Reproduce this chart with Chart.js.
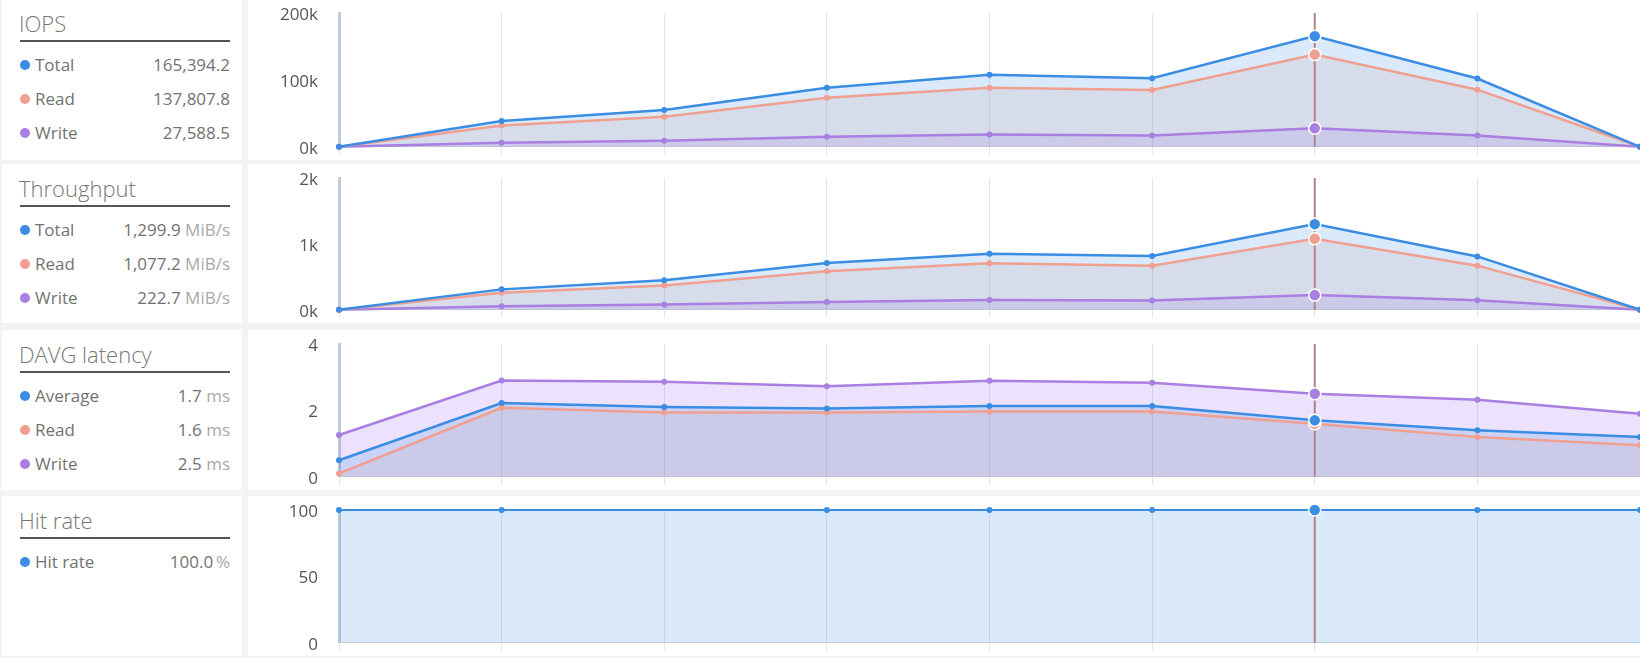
<!DOCTYPE html>
<html>
<head>
<meta charset="utf-8">
<script src="https://cdn.jsdelivr.net/npm/chart.js@4/dist/chart.umd.min.js"></script>
<style>
    body { margin: 0; width: 1640px; height: 658px; overflow: hidden; position: relative;
           background: #f3f3f3; font-family: "Open Sans", sans-serif; }
    .side { position: absolute; left: 2px; width: 240px; background: #fff; }
    .plot { position: absolute; left: 248px; width: 1400px; background: #fff; }
    .title { position: absolute; left: 17px; top: 9px; font-size: 22px; font-weight: 300;
             color: #777; line-height: 30px; white-space: nowrap; }
    .rule { position: absolute; left: 18px; top: 41px; width: 210px; height: 2px; background: #555; }
    .row { position: absolute; left: 18px; width: 210px; height: 24px; line-height: 24px;
           font-size: 17px; color: #727272; white-space: nowrap; }
    .dot { position: absolute; left: 0; top: 7px; width: 10px; height: 10px; border-radius: 50%; }
    .name { position: absolute; left: 15px; }
    .val { position: absolute; right: 0; }
    .unit { color: #a8a8a8; }
</style>
</head>
<body>

<script>
// categories (sample points, no labels shown on the axis)
const labels = ['1', '2', '3', '4', '5', '6', '7', '8', '9'];

// IOPS
const iopsTotal = [0, 38400, 55000, 88400, 107600, 102500, 165394.2, 102000, 0];
const iopsRead  = [0, 31800, 45000, 73200, 88400, 84800, 137807.8, 85400, 0];
const iopsWrite = [0, 6200, 9000, 15000, 18500, 17000, 27588.5, 17000, 0];

// Throughput, MiB/s
const tpTotal = [0, 310, 450, 710, 850, 815, 1299.9, 810, 0];
const tpRead  = [0, 260, 370, 585, 705, 670, 1077.2, 670, 0];
const tpWrite = [0, 55, 80, 120, 150, 140, 222.7, 145, 0];

// DAVG latency, ms
const latAvg   = [0.5, 2.22, 2.1, 2.06, 2.13, 2.13, 1.7, 1.4, 1.2];
const latRead  = [0.1, 2.08, 1.94, 1.94, 1.97, 1.97, 1.6, 1.2, 0.95];
const latWrite = [1.26, 2.9, 2.86, 2.73, 2.89, 2.83, 2.5, 2.32, 1.9];

// Hit rate, % (third sample has no reading, the line spans it)
const hitRate = [100, 100, null, 100, 100, 100, 100, 100, 100];

// y axis ticks per panel
const iopsTicks = [0, 100000, 200000];
const tpTicks = [0, 1000, 2000];
const latTicks = [0, 2, 4];
const hitTicks = [0, 50, 100];

// legend texts
const iopsLegend = [['Total', '165,394.2', ''], ['Read', '137,807.8', ''], ['Write', '27,588.5', '']];
const tpLegend = [['Total', '1,299.9', 'MiB/s'], ['Read', '1,077.2', 'MiB/s'], ['Write', '222.7', 'MiB/s']];
const latLegend = [['Average', '1.7', 'ms'], ['Read', '1.6', 'ms'], ['Write', '2.5', 'ms']];
const hitLegend = [['Hit rate', '100.0', '%']];

const HL = 6; // highlighted (hovered) sample

const BLUE = '#3b8de4';
const SALMON = '#f0a090';
const PURPLE = '#a97fe2';
const fills = {
    [BLUE]: 'rgba(59,141,228,0.19)',
    [SALMON]: 'rgba(240,160,144,0.18)',
    [PURPLE]: 'rgba(158,108,245,0.2)'
};
const legendColors = [BLUE, SALMON, PURPLE];

const panels = [
    {top: -1, height: 161, title: 'IOPS', legend: iopsLegend, ticks: iopsTicks, fmt: v => (v / 1000) + 'k',
     series: [iopsTotal, iopsRead, iopsWrite]},
    {top: 164, height: 159, title: 'Throughput', legend: tpLegend, ticks: tpTicks, fmt: v => (v / 1000) + 'k',
     series: [tpTotal, tpRead, tpWrite]},
    {top: 330, height: 160, title: 'DAVG latency', legend: latLegend, ticks: latTicks, fmt: v => v,
     series: [latAvg, latRead, latWrite]},
    {top: 496, height: 160, title: 'Hit rate', legend: hitLegend, ticks: hitTicks, fmt: v => v,
     series: [hitRate]}
];

// vertical marker at the hovered sample
const hoverLine = {
    id: 'hoverLine',
    beforeDatasetsDraw(chart) {
        const x = chart.scales.x.getPixelForValue(HL);
        const a = chart.chartArea;
        const ctx = chart.ctx;
        ctx.save();
        ctx.strokeStyle = '#b3808e';
        ctx.lineWidth = 2;
        ctx.beginPath();
        ctx.moveTo(x, a.top);
        ctx.lineTo(x, a.bottom);
        ctx.stroke();
        ctx.restore();
    }
};

function dataset(label, data, color, single) {
    return {
        label: label,
        data: data,
        borderColor: color,
        backgroundColor: fills[color],
        fill: 'origin',
        borderWidth: single ? 2 : 2.5,
        tension: 0,
        spanGaps: true,
        clip: false,
        pointRadius: c => c.dataIndex === HL ? 6 : 3,
        pointBackgroundColor: color,
        pointBorderColor: c => c.dataIndex === HL ? '#fff' : color,
        pointBorderWidth: c => c.dataIndex === HL ? 1.5 : 0
    };
}

panels.forEach(p => {
    const side = document.createElement('div');
    side.className = 'side';
    side.style.top = p.top + 'px';
    side.style.height = p.height + 'px';
    let html = '<div class="title">' + p.title + '</div><div class="rule"></div>';
    p.legend.forEach((l, j) => {
        const unit = l[2] ? (l[2] === '%' ? '\u2009' : ' ') + '<span class="unit">' + l[2] + '</span>' : '';
        html += '<div class="row" style="top:' + (54 + j * 34) + 'px">' +
            '<span class="dot" style="background:' + legendColors[j] + '"></span>' +
            '<span class="name">' + l[0] + '</span>' +
            '<span class="val">' + l[1] + unit + '</span></div>';
    });
    side.innerHTML = html;
    document.body.appendChild(side);

    const box = document.createElement('div');
    box.className = 'plot';
    box.style.top = p.top + 'px';
    box.style.height = p.height + 'px';
    const canvas = document.createElement('canvas');
    canvas.width = 1400;
    canvas.height = p.height;
    box.appendChild(canvas);
    document.body.appendChild(box);

    const ticks = p.ticks;
    new Chart(canvas, {
        type: 'line',
        data: {
            labels: labels,
            datasets: p.series.map((s, j) => dataset(p.legend[j][0], s, legendColors[j], p.series.length === 1))
        },
        options: {
            responsive: false,
            animation: false,
            events: [],
            layout: {padding: {top: 14, right: 8, bottom: 5, left: 0}},
            plugins: {
                legend: {display: false},
                tooltip: {enabled: false},
                filler: {drawTime: 'beforeDatasetsDraw'}
            },
            scales: {
                x: {
                    ticks: {display: false},
                    grid: {color: '#e1e4ea', lineWidth: 1, tickLength: 8},
                    border: {color: '#d0d4dc', width: 1}
                },
                y: {
                    min: ticks[0],
                    max: ticks[ticks.length - 1],
                    afterBuildTicks: axis => { axis.ticks = ticks.map(v => ({value: v})); },
                    afterFit: axis => { axis.width = 91; },
                    ticks: {
                        padding: 3,
                        labelOffset: 2,
                        color: '#555',
                        font: {family: '"Open Sans"', size: 17},
                        callback: p.fmt
                    },
                    grid: {drawOnChartArea: false, drawTicks: true, tickLength: 18, color: 'rgba(0,0,0,0)'},
                    border: {color: '#c2cbd9', width: 3}
                }
            }
        },
        plugins: [hoverLine]
    });
});
</script>
</body>
</html>
